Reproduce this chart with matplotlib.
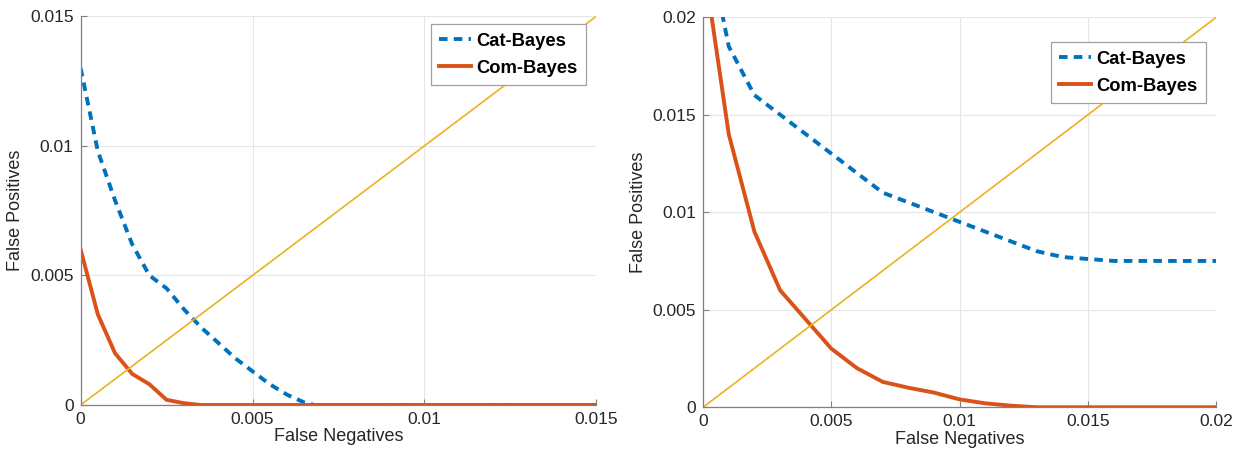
import numpy as np
import matplotlib
matplotlib.use("Agg")
import matplotlib.pyplot as plt

plt.rcParams['font.family'] = ['Liberation Sans', 'DejaVu Sans']

# Left panel: false negatives vs false positives
fn_left = [0, 0.0005, 0.001, 0.0015, 0.002, 0.0025, 0.003, 0.0035, 0.004,
           0.0045, 0.005, 0.0055, 0.006, 0.0065, 0.0068, 0.008, 0.01, 0.012, 0.015]
cat_left = [0.013, 0.0098, 0.0079, 0.0062, 0.005, 0.0045, 0.0037, 0.003, 0.0024,
            0.0018, 0.0013, 0.0008, 0.0004, 0.0001, 0.0, 0.0, 0.0, 0.0, 0.0]
com_left = [0.006, 0.0035, 0.002, 0.0012, 0.0008, 0.0002, 0.00007, 0.0, 0.0,
            0.0, 0.0, 0.0, 0.0, 0.0, 0.0, 0.0, 0.0, 0.0, 0.0]

# Right panel
fn_right = [0, 0.001, 0.002, 0.003, 0.004, 0.005, 0.006, 0.007, 0.008, 0.009,
            0.01, 0.011, 0.012, 0.013, 0.014, 0.015, 0.016, 0.017, 0.018, 0.019, 0.02]
cat_right = [0.025, 0.0185, 0.016, 0.015, 0.014, 0.013, 0.012, 0.011, 0.0105, 0.01,
             0.0095, 0.009, 0.0085, 0.008, 0.0077, 0.0076, 0.0075, 0.0075, 0.0075, 0.0075, 0.0075]
com_right = [0.023, 0.014, 0.009, 0.006, 0.0045, 0.003, 0.002, 0.0013, 0.001, 0.00075,
             0.0004, 0.0002, 0.00008, 0.0, 0.0, 0.0, 0.0, 0.0, 0.0, 0.0, 0.0]

BLUE = '#0072BD'
ORANGE = '#D95319'
YELLOW = '#EDB120'
TXT = '#262626'

fig = plt.figure(figsize=(12.4, 4.5), dpi=100)
ax1 = fig.add_axes([0.065, 0.1, 0.416, 0.864])
ax2 = fig.add_axes([0.567, 0.095, 0.414, 0.867])


def draw(ax, fn, cat, com, lim, ticks, legend_top):
    ax.plot(fn, cat, color=BLUE, linewidth=2.8, dashes=(2.2, 1.6), label='Cat-Bayes')
    ax.plot(fn, com, color=ORANGE, linewidth=2.8, label='Com-Bayes')
    ax.plot([0, lim], [0, lim], color=YELLOW, linewidth=1.2)
    ax.set_xlim(0, lim)
    ax.set_ylim(0, lim)
    ax.set_xticks(ticks)
    ax.set_yticks(ticks)
    labels = ['0' if t == 0 else f"{t:g}" for t in ticks]
    ax.set_xticklabels(labels)
    ax.set_yticklabels(labels)
    ax.grid(True, color='#e6e6e6', linewidth=0.8)
    ax.set_axisbelow(True)
    for side in ['top', 'right']:
        ax.spines[side].set_visible(False)
    for side in ['left', 'bottom']:
        ax.spines[side].set_color('#808080')
        ax.spines[side].set_linewidth(0.9)
    ax.tick_params(direction='in', length=4, width=0.8, color='#808080',
                   labelsize=12.5, labelcolor=TXT, pad=5)
    ax.set_xlabel('False Negatives', fontsize=13, color=TXT, labelpad=1)
    ax.set_ylabel('False Positives', fontsize=13, color=TXT, labelpad=4)
    leg = ax.legend(loc='upper right', bbox_to_anchor=(0.98, legend_top),
                    borderaxespad=0, prop={'size': 13.2, 'weight': 'bold'},
                    fancybox=False, handlelength=1.75, handletextpad=0.3,
                    borderpad=0.45, labelspacing=0.55, framealpha=1)
    leg.get_frame().set_edgecolor('#a0a0a0')
    leg.get_frame().set_linewidth(0.9)


draw(ax1, fn_left, cat_left, com_left, 0.015, [0, 0.005, 0.01, 0.015], 0.979)
draw(ax2, fn_right, cat_right, com_right, 0.02, [0, 0.005, 0.01, 0.015, 0.02], 0.935)

fig.savefig('out.png', dpi=100)
